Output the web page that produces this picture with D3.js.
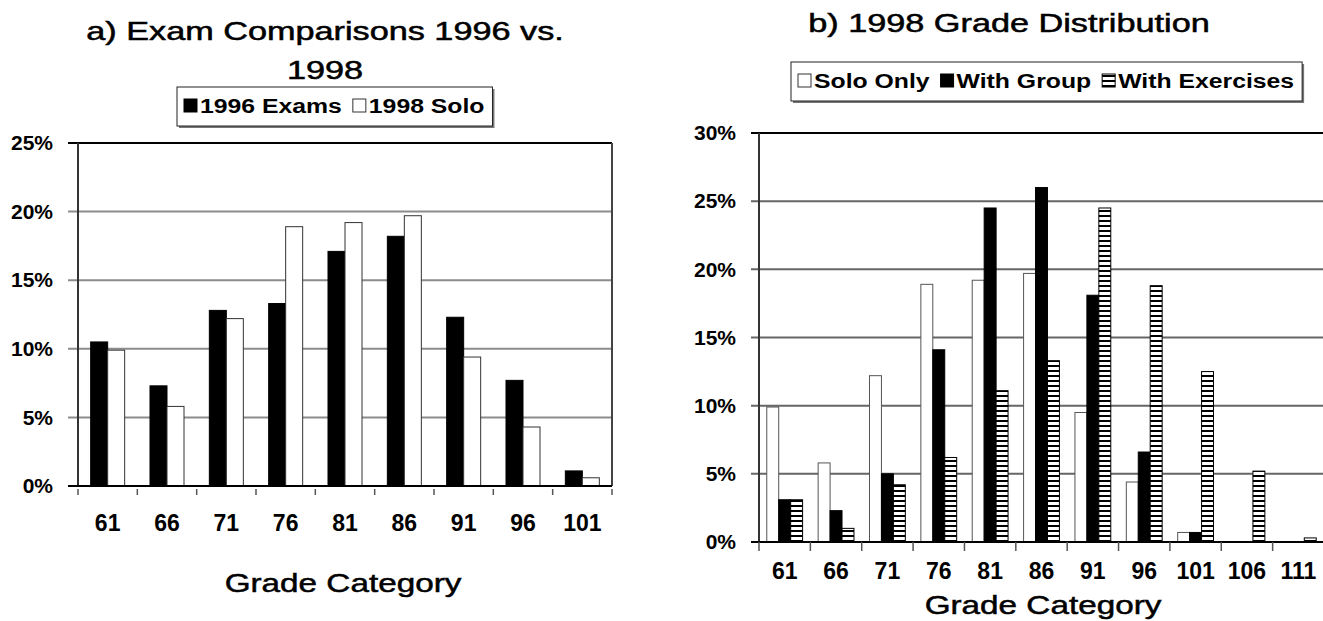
<!DOCTYPE html>
<html>
<head>
<meta charset="utf-8">
<script src="https://cdn.jsdelivr.net/npm/d3@7"></script>
<style>
  body { margin: 0; background: #fff; }
  svg { display: block; font-family: "Liberation Sans", Arial, sans-serif; }
</style>
</head>
<body>
<svg></svg>
<script>
const width = 1323;
const height = 621;

// chart a) exam comparisons, values in percent
const gradesA = ["61", "66", "71", "76", "81", "86", "91", "96", "101"];
const exams1996 = [10.5, 7.3, 12.8, 13.3, 17.1, 18.2, 12.3, 7.7, 1.1];
const solo1998 = [9.9, 5.8, 12.2, 18.9, 19.2, 19.7, 9.4, 4.3, 0.6];
const ticksA = [0, 5, 10, 15, 20, 25];

// chart b) 1998 grade distribution
const gradesB = ["61", "66", "71", "76", "81", "86", "91", "96", "101", "106", "111"];
const soloOnly = [9.9, 5.8, 12.2, 18.9, 19.2, 19.7, 9.5, 4.4, 0.7, 0, 0];
const withGroup = [3.1, 2.3, 5.0, 14.1, 24.5, 26.0, 18.1, 6.6, 0.7, 0, 0];
const withExercises = [3.1, 1.0, 4.2, 6.2, 11.1, 13.3, 24.5, 18.8, 12.5, 5.2, 0.3];
const ticksB = [0, 5, 10, 15, 20, 25, 30];

let svg = d3.select("svg").attr("width", width).attr("height", height);

// horizontal stripes for "With Exercises"
let pat = svg.append("defs").append("pattern")
    .attr("id", "stripes")
    .attr("patternUnits", "userSpaceOnUse")
    .attr("width", 8)
    .attr("height", 5);
pat.append("rect").attr("width", 8).attr("height", 5).attr("fill", "#fff");
pat.append("rect").attr("width", 8).attr("height", 2).attr("fill", "#000");

// the original chart text is stretched sideways, so texts get a x-scale
function label(g, x, y, txt, size, weight, sx, anchor) {
    let t = g.append("text")
        .attr("transform", `translate(${x},${y}) scale(${sx},1)`)
        .attr("text-anchor", anchor || "middle")
        .style("font-size", size + "px")
        .style("font-weight", weight)
        .text(txt);
    if (weight === "normal") {
        // a bit heavier, like the blurred original
        t.style("stroke", "#000").style("stroke-width", 0.5);
    }
    return t;
}

function drawLegend(cx, top, items) {
    let g = svg.append("g");
    let shadow = g.append("rect");
    let box = g.append("rect");
    let cur = 7;
    let gap = 11;
    items.forEach((it) => {
        g.append("rect")
            .attr("x", cur).attr("y", top + 12)
            .attr("width", 13).attr("height", 13)
            .attr("fill", it.fill)
            .attr("stroke", it.stroke)
            .attr("stroke-width", 1);
        cur += 16;
        let t = label(g, cur, top + 26, it.name, 21, "bold", 1.18, "start");
        cur += t.node().getComputedTextLength() * 1.18 + gap;
    });
    let w = cur - gap + 8;
    shadow.attr("x", 2).attr("y", top + 2).attr("width", w).attr("height", 39).attr("fill", "#777");
    box.attr("x", 0).attr("y", top).attr("width", w).attr("height", 39)
        .attr("fill", "#fff").attr("stroke", "#222").attr("stroke-width", 1);
    g.attr("transform", `translate(${Math.round(cx - w / 2)},0)`);
}

function drawChart(cfg) {
    let g = svg.append("g");
    let x0 = d3.scaleBand().domain(cfg.grades).range([cfg.left, cfg.right]);
    let x1 = d3.scaleBand()
        .domain(d3.range(cfg.series.length))
        .range([0, x0.bandwidth()])
        .paddingOuter(cfg.pad);
    let y = d3.scaleLinear().domain([0, d3.max(cfg.ticks)]).range([cfg.bottom, cfg.top]);
    let top = d3.max(cfg.ticks);

    // gridlines, extended left as tick marks
    g.selectAll("line.grid")
        .data(cfg.ticks.filter((t) => t > 0))
        .join("line")
        .attr("x1", cfg.left - cfg.tickLen)
        .attr("x2", cfg.right)
        .attr("y1", (d) => y(d))
        .attr("y2", (d) => y(d))
        .attr("stroke", (d) => (d === top ? "#000" : cfg.gridColor))
        .attr("stroke-width", 2);

    // y labels
    let yAxis = g.append("g")
        .attr("transform", `translate(${cfg.left},0)`)
        .call(d3.axisLeft(y).tickValues(cfg.ticks).tickSize(cfg.tickLen).tickPadding(15)
            .tickFormat((d) => d + "%"));
    yAxis.select(".domain").remove();
    yAxis.selectAll("line").remove();
    yAxis.selectAll("text")
        .attr("font-family", null)
        .style("font-size", "21px")
        .style("font-weight", "bold")
        .attr("fill", "#000");

    // bars
    cfg.series.forEach((s, i) => {
        g.append("g")
            .selectAll("rect")
            .data(s.values.map((v, k) => ({ g: cfg.grades[k], v: v })).filter((d) => d.v > 0))
            .join("rect")
            .attr("x", (d) => x0(d.g) + x1(i))
            .attr("y", (d) => y(d.v))
            .attr("width", x1.bandwidth())
            .attr("height", (d) => y(0) - y(d.v))
            .attr("fill", s.fill)
            .attr("stroke", s.stroke)
            .attr("stroke-width", 1);
    });

    // y axis line, right border, baseline
    g.append("line")
        .attr("x1", cfg.left).attr("x2", cfg.left)
        .attr("y1", cfg.top).attr("y2", cfg.bottom)
        .attr("stroke", "#333").attr("stroke-width", 2);
    if (cfg.rightBorder) {
        g.append("line")
            .attr("x1", cfg.right).attr("x2", cfg.right)
            .attr("y1", cfg.top).attr("y2", cfg.bottom)
            .attr("stroke", "#444").attr("stroke-width", 2);
    }
    g.append("line")
        .attr("x1", cfg.left - cfg.tickLen).attr("x2", cfg.right)
        .attr("y1", y(0)).attr("y2", y(0))
        .attr("stroke", "#000").attr("stroke-width", 2);

    // category boundary ticks
    let bounds = cfg.grades.map((c) => x0(c)).concat([cfg.right]);
    g.selectAll("line.xt")
        .data(bounds)
        .join("line")
        .attr("x1", (d) => d).attr("x2", (d) => d)
        .attr("y1", y(0) + cfg.xTick[0]).attr("y2", y(0) + cfg.xTick[1])
        .attr("stroke", "#555").attr("stroke-width", 1.5);

    // x labels
    let xAxis = g.append("g")
        .attr("transform", `translate(0,${cfg.bottom})`)
        .call(d3.axisBottom(x0).tickSize(0).tickPadding(cfg.labelPad));
    xAxis.select(".domain").remove();
    xAxis.selectAll("text")
        .attr("font-family", null)
        .style("font-size", "23px")
        .style("font-weight", "bold")
        .attr("fill", "#000");

    label(g, cfg.xTitle[0], cfg.xTitle[1], "Grade Category", 26, "normal", 1.28);
}

// ---- chart a ----
label(svg, 325, 40, "a) Exam Comparisons 1996 vs.", 25, "normal", 1.37);
label(svg, 325, 79, "1998", 25, "normal", 1.37);
drawLegend(335, 87, [
    { name: "1996 Exams", fill: "#000", stroke: "#000" },
    { name: "1998 Solo", fill: "#fff", stroke: "#333" },
]);
drawChart({
    grades: gradesA,
    series: [
        { values: exams1996, fill: "#000", stroke: "#000" },
        { values: solo1998, fill: "#fff", stroke: "#333" },
    ],
    ticks: ticksA,
    left: 78, right: 612, top: 143, bottom: 486,
    pad: 0.745, tickLen: 10, gridColor: "#8c8c8c",
    rightBorder: true, xTick: [3, 9], labelPad: 29,
    xTitle: [343, 592],
});

// ---- chart b ----
label(svg, 1009, 32, "b) 1998 Grade Distribution", 25, "normal", 1.37);
drawLegend(1047, 62, [
    { name: "Solo Only", fill: "#fff", stroke: "#333" },
    { name: "With Group", fill: "#000", stroke: "#000" },
    { name: "With Exercises", fill: "url(#stripes)", stroke: "#000" },
]);
drawChart({
    grades: gradesB,
    series: [
        { values: soloOnly, fill: "#fff", stroke: "#555" },
        { values: withGroup, fill: "#000", stroke: "#000" },
        { values: withExercises, fill: "url(#stripes)", stroke: "#000" },
    ],
    ticks: ticksB,
    left: 759, right: 1324, top: 133, bottom: 542,
    pad: 0.65, tickLen: 8, gridColor: "#666",
    rightBorder: false, xTick: [0, 9], labelPad: 21,
    xTitle: [1043, 614],
});
</script>
</body>
</html>
